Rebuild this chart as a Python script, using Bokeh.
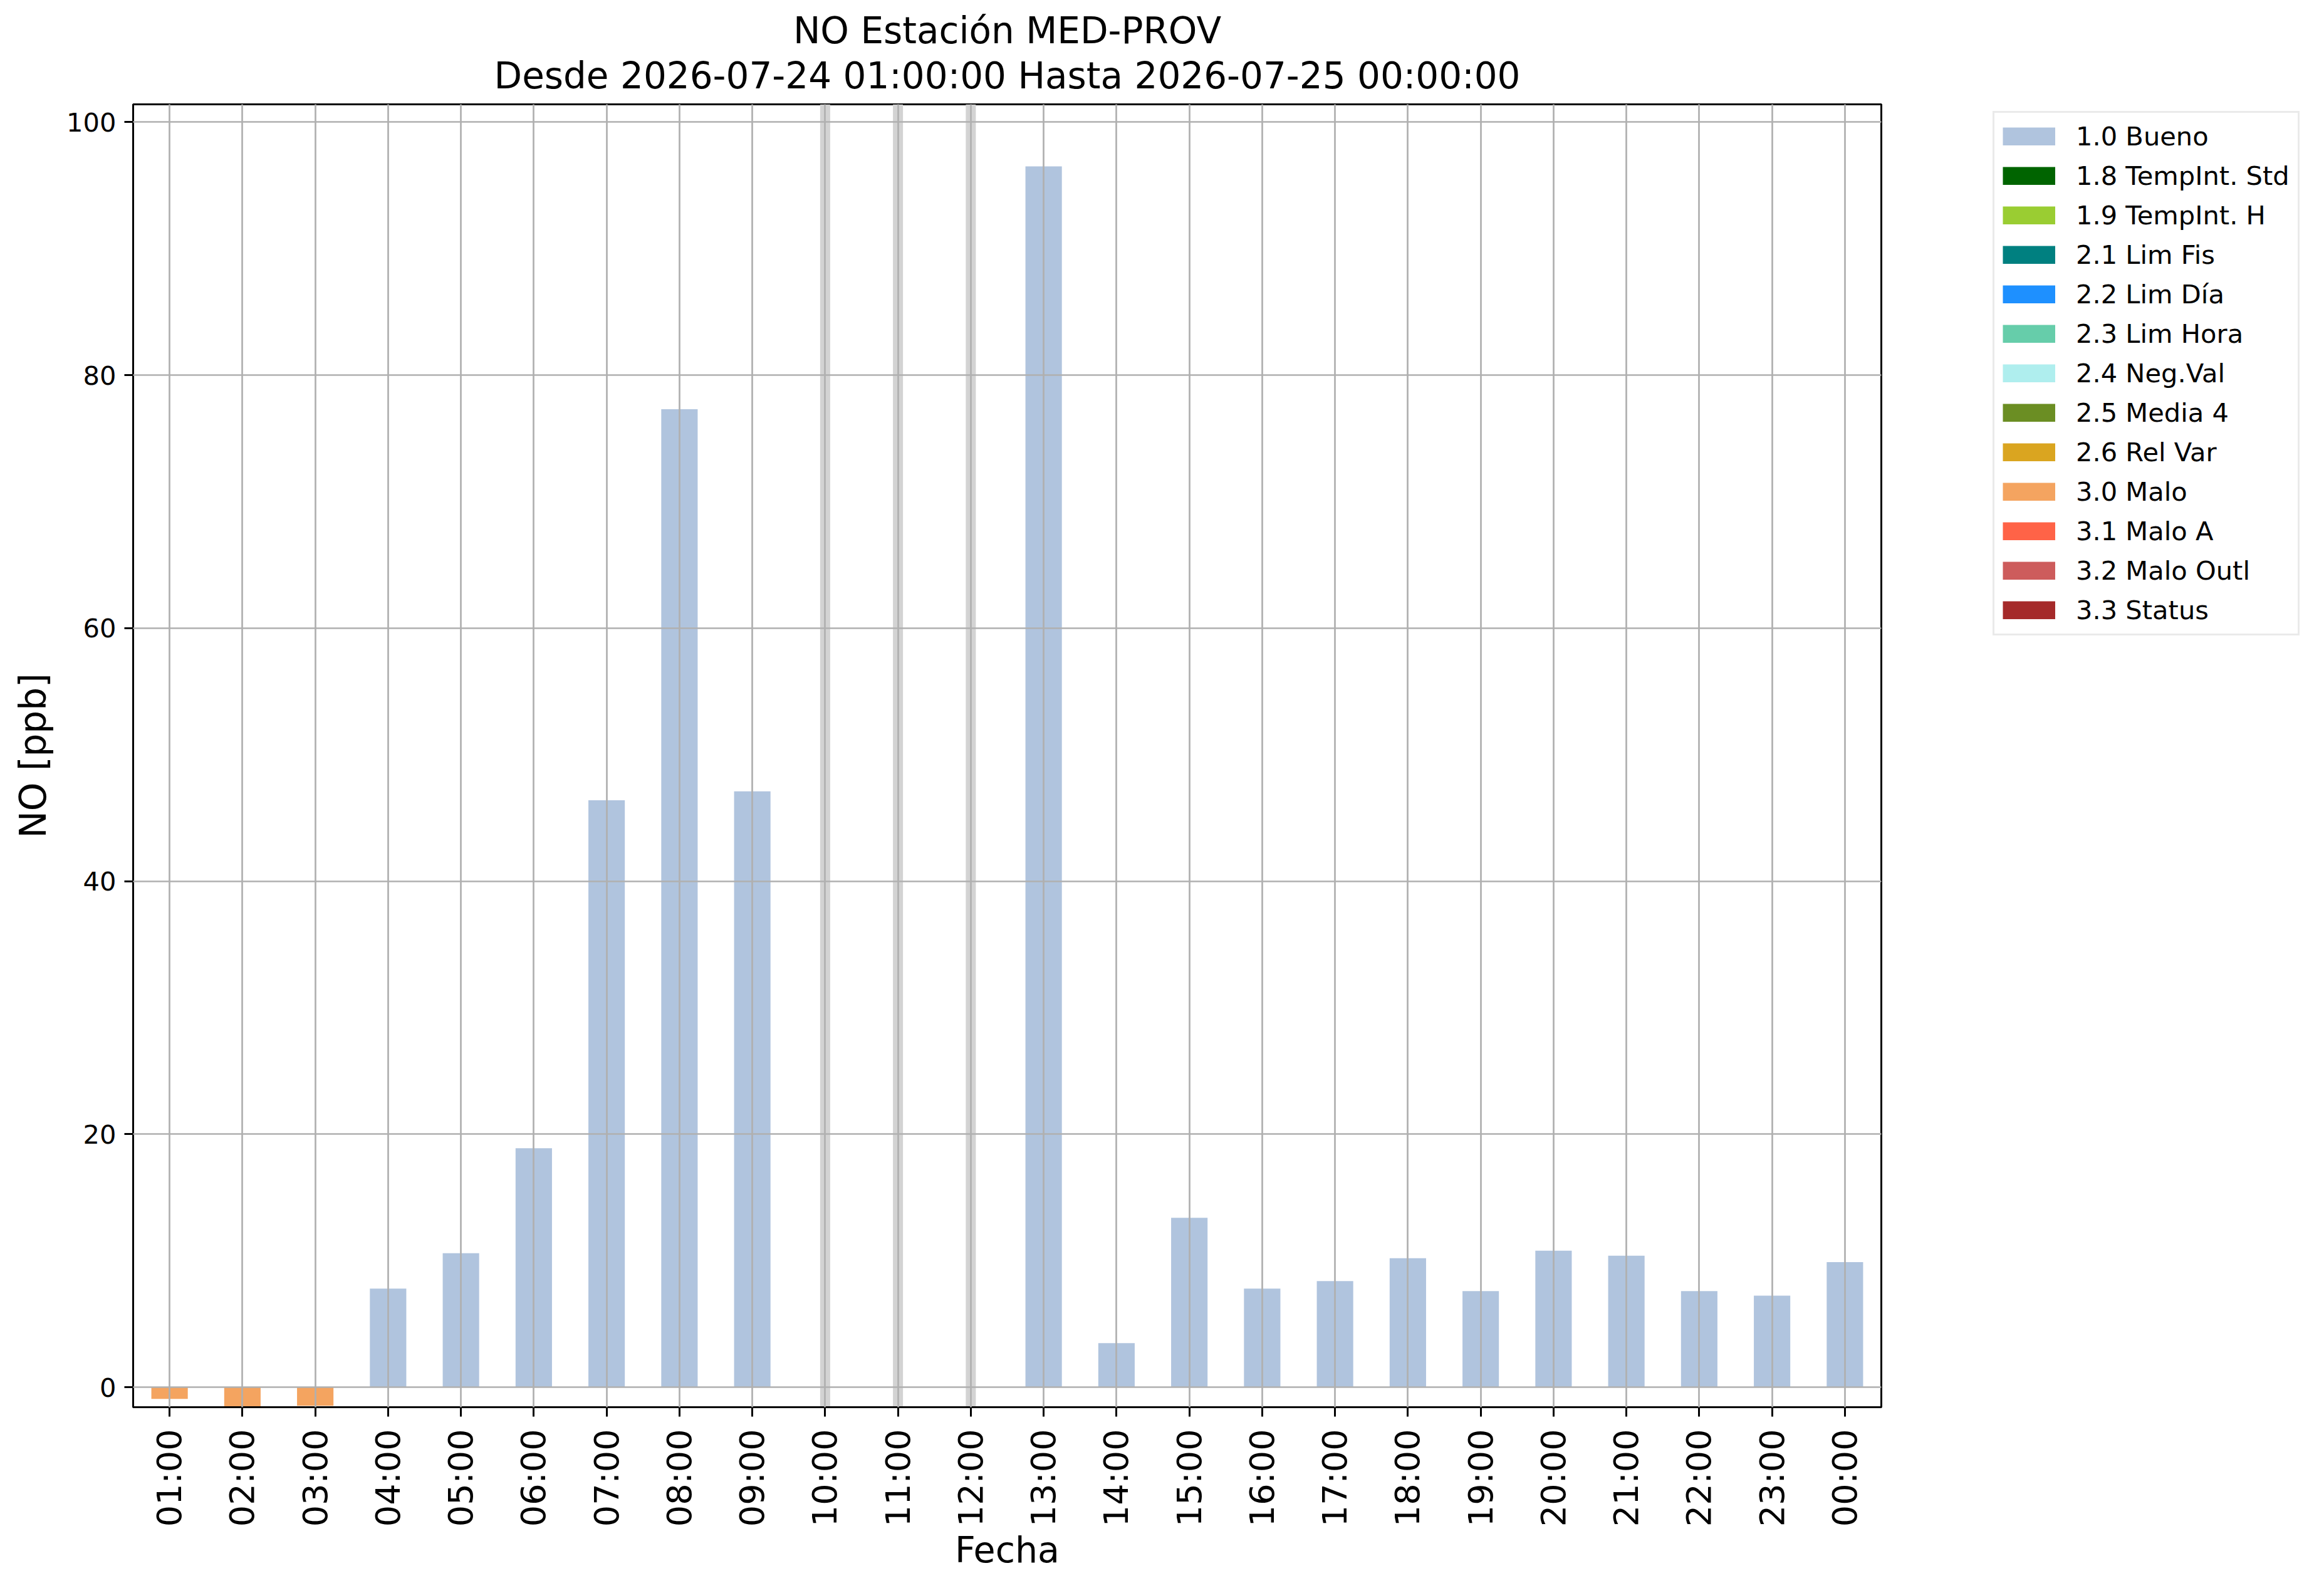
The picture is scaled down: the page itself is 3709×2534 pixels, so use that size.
import math
from bokeh.plotting import figure
from bokeh.models import (Range1d, FactorRange, FixedTicker, Legend, LegendItem,
                          Title, ColumnDataSource)
from bokeh.embed import file_html
from bokeh.resources import INLINE

# ---------------- data ----------------
hours = ["01:00", "02:00", "03:00", "04:00", "05:00", "06:00", "07:00", "08:00",
         "09:00", "10:00", "11:00", "12:00", "13:00", "14:00", "15:00", "16:00",
         "17:00", "18:00", "19:00", "20:00", "21:00", "22:00", "23:00", "00:00"]
values = [-0.91, -1.49, -1.46, 7.8, 10.6, 18.9, 46.4, 77.3,
          47.1, None, None, None, 96.5, 3.5, 13.4, 7.8,
          8.4, 10.2, 7.6, 10.8, 10.4, 7.6, 7.25, 9.9]
flags = ["3.0", "3.0", "3.0", "1.0", "1.0", "1.0", "1.0", "1.0",
         "1.0", None, None, None, "1.0", "1.0", "1.0", "1.0",
         "1.0", "1.0", "1.0", "1.0", "1.0", "1.0", "1.0", "1.0"]

flag_codes = ["1.0", "1.8", "1.9", "2.1", "2.2", "2.3", "2.4", "2.5", "2.6",
              "3.0", "3.1", "3.2", "3.3"]
flag_names = ["1.0 Bueno", "1.8 TempInt. Std", "1.9 TempInt. H", "2.1 Lim Fis",
              "2.2 Lim Día", "2.3 Lim Hora", "2.4 Neg.Val", "2.5 Media 4",
              "2.6 Rel Var", "3.0 Malo", "3.1 Malo A", "3.2 Malo Outl", "3.3 Status"]
flag_colors = ["#b0c4de", "#006400", "#9acd32", "#008080", "#1e90ff", "#66cdaa",
               "#afeeee", "#6b8e23", "#daa520", "#f4a460", "#ff6347", "#cd5c5c",
               "#a52a2a"]

y_ticks = [0, 20, 40, 60, 80, 100]
y_min, y_max = -1.57, 101.4

title_line1 = "NO Estación MED-PROV"
title_line2 = "Desde 2026-07-24 01:00:00 Hasta 2026-07-25 00:00:00"
x_label = "Fecha"
y_label = "NO [ppb]"

FONT = "DejaVu Sans"

# ---------------- figure ----------------
p = figure(x_range=FactorRange(factors=hours), y_range=Range1d(y_min, y_max),
           frame_width=2790, frame_height=2079,
           min_border_left=212, min_border_right=703,
           min_border_top=166, min_border_bottom=285,
           output_backend="svg", toolbar_location=None, tools="",
           title_location=None)
p.background_fill_color = "white"
p.border_fill_color = "white"
p.outline_line_color = "black"
p.outline_line_width = 3

# titles (first added is closest to the plot)
t2 = Title(text=title_line2, align="center", text_font=FONT, text_font_size="58px",
           text_font_style="normal", text_color="black", standoff=23)
t1 = Title(text=title_line1, align="center", text_font=FONT, text_font_size="58px",
           text_font_style="normal", text_color="black", standoff=-18)
p.add_layout(t2, "above")
p.add_layout(t1, "above")

# missing-data bands
missing = [h for h, v in zip(hours, values) if v is None]
src_miss = ColumnDataSource(dict(x=missing, top=[y_max] * len(missing),
                                 bottom=[y_min] * len(missing)))
p.vbar(x="x", top="top", bottom="bottom", width=0.138, source=src_miss,
       fill_color="#d3d3d3", line_color=None)

# bars per flag
nan = float("nan")
swatch_renderers = []
for code, name, color in zip(flag_codes, flag_names, flag_colors):
    xs = [h for h, v, f in zip(hours, values, flags) if f == code and v is not None]
    ys = [v for h, v, f in zip(hours, values, flags) if f == code and v is not None]
    src = ColumnDataSource(dict(x=xs, top=ys))
    p.vbar(x="x", top="top", bottom=0, width=0.5, source=src,
           fill_color=color, line_color=None)
    # legend swatch renderer (draws nothing in the plot area)
    r = p.line(x=hours[:2], y=[nan, nan], line_color=color, line_width=29,
               line_cap="butt")
    swatch_renderers.append(r)

# grid on top of bars
for g in (p.xgrid, p.ygrid):
    g.grid_line_color = "#b0b0b0"
    g.grid_line_width = 2.7
    g.level = "overlay"

# axes
p.yaxis.ticker = FixedTicker(ticks=y_ticks)
for ax in (p.xaxis, p.yaxis):
    ax.axis_line_width = 3
    ax.axis_line_color = "black"
    ax.major_tick_line_width = 3
    ax.major_tick_in = 0
    ax.minor_tick_line_color = None
    ax.major_label_text_font = FONT
    ax.axis_label_text_font = FONT
    ax.axis_label_text_font_style = "normal"
    ax.axis_label_text_color = "black"
    ax.major_label_text_color = "black"

p.xaxis.major_tick_out = 15
p.xaxis.major_label_orientation = math.pi / 2
p.xaxis.major_label_text_font_size = "54px"
p.xaxis.major_label_standoff = 20
p.xaxis.axis_label = x_label
p.xaxis.axis_label_text_font_size = "57px"
p.xaxis.axis_label_standoff = 1

p.yaxis.major_tick_out = 14
p.yaxis.major_label_text_font_size = "41.6px"
p.yaxis.major_label_standoff = 13
p.yaxis.axis_label = y_label
p.yaxis.axis_label_text_font_size = "58px"
p.yaxis.axis_label_standoff = 16

# legend
items = [LegendItem(label=n, renderers=[r]) for n, r in zip(flag_names, swatch_renderers)]
legend = Legend(items=items, location=(178, 1231), orientation="vertical",
                glyph_width=84, glyph_height=29, label_height=42,
                label_standoff=33, spacing=14, padding=13, margin=0,
                label_text_font=FONT, label_text_font_size="41.6px",
                label_text_color="black",
                border_line_color="#d6d6d6", border_line_width=3,
                background_fill_color="white", background_fill_alpha=1.0)
p.add_layout(legend, "right")

open("out.html", "w").write(file_html(p, INLINE))
